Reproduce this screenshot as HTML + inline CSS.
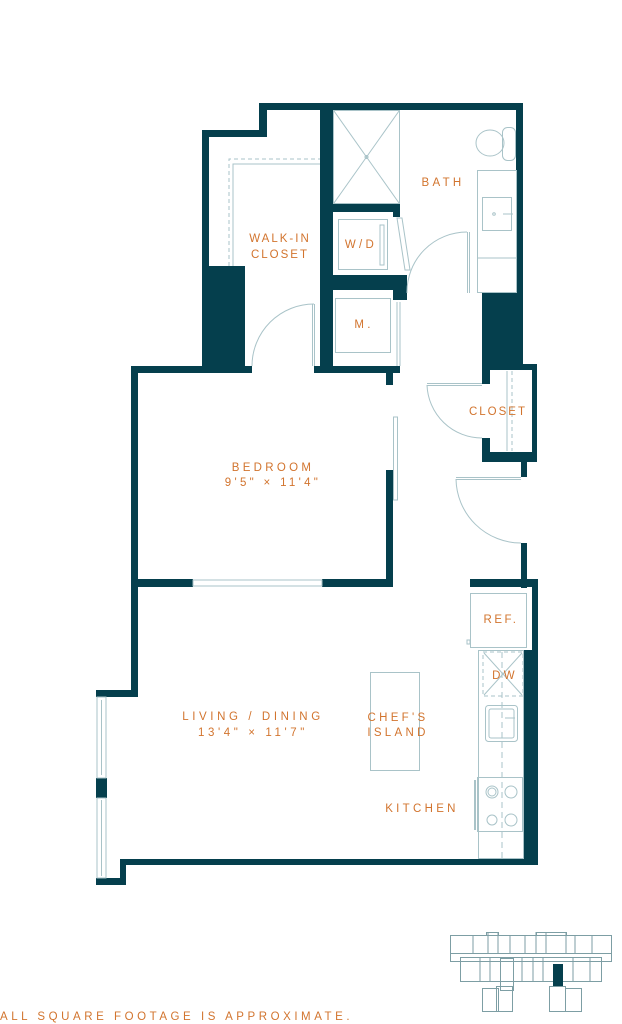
<!DOCTYPE html>
<html><head><meta charset="utf-8"><style>
html,body{margin:0;padding:0;background:#fff}
svg{display:block}
text{font-family:"Liberation Sans",sans-serif;fill:#d2742e;font-size:11.5px;letter-spacing:3.3px;text-anchor:middle}
</style></head><body>
<svg width="622" height="1024" viewBox="0 0 622 1024" xmlns="http://www.w3.org/2000/svg">
<g fill="#053f4d">
<rect x="259" y="103" width="264" height="7"/>
<rect x="259" y="103" width="8" height="34"/>
<rect x="202" y="130" width="65" height="7"/>
<rect x="202" y="130" width="7" height="243"/>
<rect x="202" y="266" width="43" height="107"/>
<rect x="131" y="366" width="121" height="7"/>
<rect x="314" y="366" width="86" height="7"/>
<rect x="386" y="366" width="7" height="19"/>
<rect x="320" y="103" width="13" height="270"/>
<rect x="320" y="203" width="80" height="9"/>
<rect x="393" y="203" width="7" height="14"/>
<rect x="320" y="275" width="80" height="15"/>
<rect x="393" y="275" width="14" height="25"/>
<rect x="516" y="103" width="7" height="200"/>
<rect x="482" y="293" width="41" height="72"/>
<rect x="482" y="293" width="8" height="91"/>
<rect x="482" y="364" width="55" height="6"/>
<rect x="532" y="364" width="5" height="98"/>
<rect x="482" y="452" width="55" height="10"/>
<rect x="482" y="438" width="8" height="24"/>
<rect x="521" y="452" width="6" height="25"/>
<rect x="521" y="543" width="6" height="45"/>
<rect x="131" y="366" width="7" height="331"/>
<rect x="131" y="579" width="62" height="8"/>
<rect x="322" y="579" width="71" height="8"/>
<rect x="386" y="470" width="7" height="117"/>
<rect x="470" y="579" width="68" height="8"/>
<rect x="532" y="579" width="6" height="286"/>
<rect x="523" y="650" width="15" height="215"/>
<rect x="120" y="859" width="418" height="6"/>
<rect x="120" y="859" width="6" height="26"/>
<rect x="96" y="878" width="30" height="7"/>
<rect x="96" y="690" width="42" height="7"/>
<rect x="96" y="778" width="11" height="20"/>
</g>
<g fill="none" stroke="#a9c3c8" stroke-width="1">
<rect x="193" y="580" width="129" height="6"/>
<rect x="97" y="697" width="9" height="81"/><line x1="101.5" y1="700" x2="101.5" y2="775"/>
<rect x="97" y="798" width="9" height="80"/><line x1="101.5" y1="800" x2="101.5" y2="876"/>
<rect x="393.5" y="417" width="4" height="83"/>
<polyline points="233,266 233,164 320,164"/>
<polyline points="229,266 229,159 320,159" stroke-dasharray="4,3"/>
<rect x="333.5" y="110.5" width="66" height="93"/>
<line x1="334" y1="111" x2="399" y2="203"/><line x1="399" y1="111" x2="334" y2="203"/>
<circle cx="366.5" cy="157" r="1.5"/>
<rect x="338.5" y="219.5" width="49" height="50"/><rect x="380" y="225" width="4" height="40"/>
<polygon points="397,218 402,218 410,270 405,270"/>
<rect x="335.5" y="298.5" width="55" height="54"/>
<line x1="397" y1="302" x2="397" y2="366"/><line x1="400" y1="302" x2="400" y2="366"/>
<rect x="477.5" y="170.5" width="39" height="122"/>
<rect x="482.5" y="197.5" width="29" height="33"/><line x1="477" y1="258" x2="516" y2="258"/>
<circle cx="494" cy="214" r="1.3"/><line x1="503" y1="214" x2="513" y2="214"/>
<ellipse cx="490" cy="143" rx="14" ry="13"/><rect x="502.5" y="127.5" width="13" height="33" rx="5"/>
<line x1="467.5" y1="232" x2="467.5" y2="293"/><line x1="469.5" y1="232" x2="469.5" y2="293"/>
<path d="M407,293 A60,60 0 0 1 467,232"/>
<line x1="312.5" y1="304" x2="312.5" y2="366"/><line x1="314.5" y1="304" x2="314.5" y2="366"/>
<path d="M252,366 A62,62 0 0 1 314,304"/>
<line x1="427" y1="383.5" x2="482" y2="383.5"/><line x1="427" y1="385.5" x2="482" y2="385.5"/>
<path d="M427,385 A55,55 0 0 0 482,438"/>
<line x1="456" y1="477.5" x2="521" y2="477.5"/><line x1="456" y1="479.5" x2="521" y2="479.5"/>
<path d="M456,479 A65,65 0 0 0 521,543"/>
<line x1="507" y1="371" x2="507" y2="451"/><line x1="512" y1="371" x2="512" y2="451" stroke-dasharray="4,3"/>
<rect x="470.5" y="593.5" width="56" height="54"/><rect x="467" y="640" width="3" height="4"/>
<rect x="478.5" y="650.5" width="45" height="208"/>
<line x1="502" y1="652" x2="502" y2="858" stroke-dasharray="6,4"/>
<rect x="483" y="652" width="40" height="44" stroke-dasharray="4,3"/>
<line x1="484" y1="653" x2="522" y2="695"/><line x1="522" y1="653" x2="484" y2="695"/>
<rect x="485.5" y="705.5" width="32" height="36" rx="3"/><rect x="489" y="709" width="25" height="29" rx="2"/>
<line x1="505" y1="718" x2="515" y2="718"/>
<rect x="477.5" y="777.5" width="45" height="54"/>
<circle cx="492" cy="792" r="6"/><circle cx="492" cy="792" r="4"/><circle cx="511" cy="792" r="6"/>
<circle cx="492" cy="820" r="5"/><circle cx="511" cy="820" r="6"/>
<line x1="475" y1="780" x2="475" y2="830" stroke-width="2"/>
<rect x="370.5" y="672.5" width="49" height="98"/>
<g stroke="#7d9ea4">
<rect x="450.5" y="935.5" width="161" height="26"/>
<rect x="450.5" y="953.5" width="161" height="8"/>
<line x1="473" y1="935" x2="473" y2="953"/><line x1="488" y1="932" x2="488" y2="953"/><line x1="498" y1="932" x2="498" y2="953"/>
<line x1="510" y1="935" x2="510" y2="953"/><line x1="525" y1="935" x2="525" y2="953"/><line x1="536" y1="932" x2="536" y2="953"/>
<line x1="546" y1="932" x2="546" y2="953"/><line x1="566" y1="932" x2="566" y2="953"/><line x1="575" y1="935" x2="575" y2="953"/><line x1="592" y1="935" x2="592" y2="953"/>
<rect x="486.5" y="932.5" width="12" height="3"/><rect x="536.5" y="932.5" width="30" height="3"/>
<rect x="460.5" y="957.5" width="141" height="24"/>
<line x1="480" y1="957" x2="480" y2="982"/><line x1="490" y1="957" x2="490" y2="982"/><line x1="522" y1="957" x2="522" y2="982"/><line x1="533" y1="957" x2="533" y2="982"/><line x1="543" y1="957" x2="543" y2="982"/><line x1="573" y1="957" x2="573" y2="982"/><line x1="590" y1="957" x2="590" y2="982"/>
<rect x="500.5" y="958.5" width="13" height="32"/>
<rect x="482.5" y="988.5" width="16" height="23"/><rect x="496.5" y="986.5" width="16" height="25"/>
<rect x="549.5" y="986.5" width="16" height="25"/><rect x="565.5" y="988.5" width="16" height="23"/>
</g>
</g>
<rect x="553" y="964" width="10" height="22" fill="#053f4d"/>
<text x="443" y="186">BATH</text>
<text x="280" y="242" font-size="9.5" style="letter-spacing:2px">WALK-IN</text>
<text x="280" y="258" font-size="9.5" style="letter-spacing:2px">CLOSET</text>
<text x="361" y="248" font-size="12">W/D</text>
<text x="364" y="328" font-size="10">M.</text>
<text x="498" y="415" font-size="9" style="letter-spacing:2px">CLOSET</text>
<text x="273" y="471">BEDROOM</text>
<text x="273" y="486" font-size="10.5">9'5" × 11'4"</text>
<text x="253" y="720" font-size="12" style="letter-spacing:3.6px">LIVING / DINING</text>
<text x="253" y="736" font-size="12" style="letter-spacing:3.6px">13'4" × 11'7"</text>
<text x="398" y="721">CHEF'S</text>
<text x="398" y="736">ISLAND</text>
<text x="422" y="812">KITCHEN</text>
<text x="501" y="623" font-size="10" style="letter-spacing:2.5px">REF.</text>
<text x="505" y="679" font-size="12">DW</text>
<text x="0" y="1020" font-size="11" style="letter-spacing:3.55px;text-anchor:start">ALL SQUARE FOOTAGE IS APPROXIMATE.</text>
</svg>
</body></html>
